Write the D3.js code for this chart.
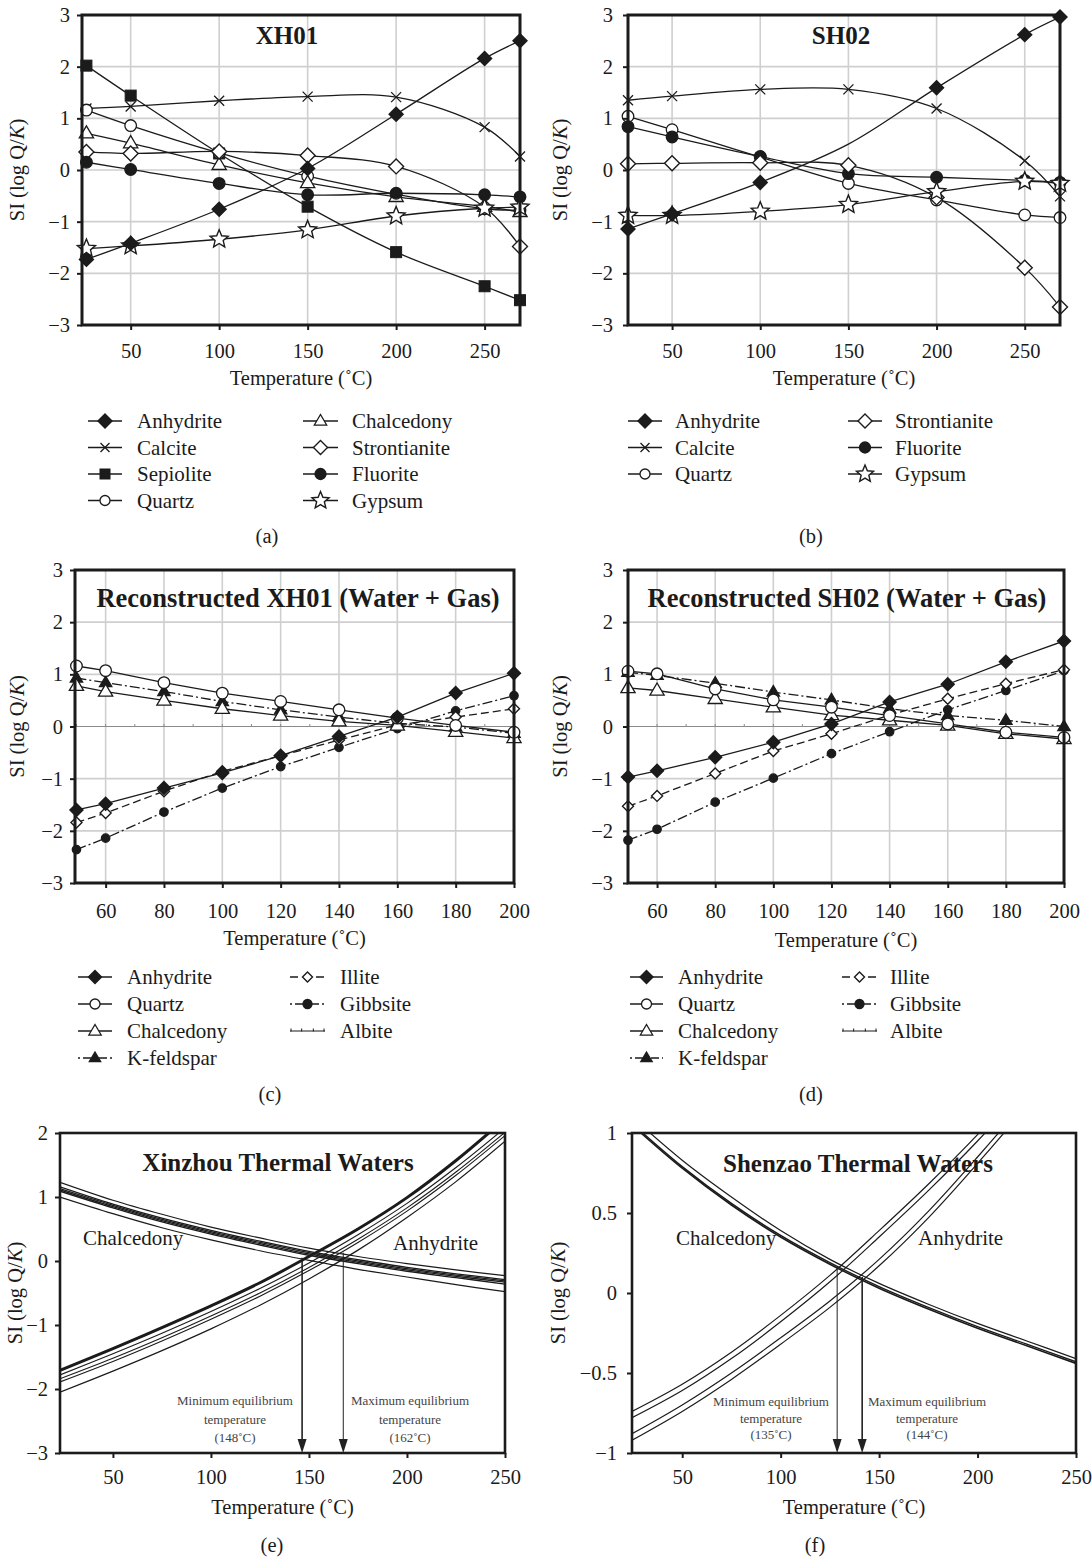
<!DOCTYPE html>
<html><head><meta charset="utf-8">
<script src="https://cdn.jsdelivr.net/npm/d3@7"></script>
<style>body{margin:0;background:#fff}svg{display:block}</style>
</head><body>
<script>
// ---------------- DATA ----------------
// Panel (a) XH01
const tempsA = [25, 50, 100, 150, 200, 250, 270];
const aAnhydrite    = [-1.73, -1.42, -0.76, 0.03, 1.08, 2.16, 2.50];
const aCalcite      = [1.19, 1.23, 1.34, 1.42, 1.41, 0.83, 0.26];
const aSepiolite    = [2.02, 1.44, 0.32, -0.71, -1.59, -2.25, -2.52];
const aQuartz       = [1.16, 0.86, 0.33, -0.12, -0.47, -0.75, -0.78];
const aChalcedony   = [0.71, 0.52, 0.10, -0.25, -0.52, -0.71, -0.81];
const aStrontianite = [0.35, 0.32, 0.36, 0.28, 0.07, -0.72, -1.48];
const aFluorite     = [0.15, 0.01, -0.26, -0.48, -0.45, -0.48, -0.52];
const aGypsum       = [-1.52, -1.47, -1.34, -1.16, -0.89, -0.74, -0.72];

// Panel (b) SH02
const tempsB = [25, 50, 100, 150, 200, 250, 270];
const bAnhydrite    = [-1.14, -0.85, -0.24, 0.50, 1.59, 2.62, 2.96];
const bCalcite      = [1.35, 1.43, 1.56, 1.56, 1.19, 0.18, -0.51];
const bQuartz       = [1.04, 0.78, 0.25, -0.26, -0.58, -0.87, -0.92];
const bStrontianite = [0.12, 0.13, 0.14, 0.09, -0.53, -1.89, -2.65];
const bFluorite     = [0.84, 0.64, 0.26, -0.07, -0.14, -0.20, -0.24];
const bGypsum       = [-0.88, -0.88, -0.80, -0.67, -0.42, -0.22, -0.26];

// Panel (c) Reconstructed XH01
const tempsC = [50, 60, 80, 100, 120, 140, 160, 180, 200];
const cAnhydrite  = [-1.60, -1.48, -1.18, -0.89, -0.56, -0.19, 0.18, 0.64, 1.02];
const cQuartz     = [1.16, 1.07, 0.84, 0.64, 0.48, 0.32, 0.16, 0.02, -0.11];
const cChalcedony = [0.78, 0.67, 0.50, 0.34, 0.21, 0.10, 0.02, -0.10, -0.22];
const cKfeldspar  = [0.93, 0.84, 0.67, 0.48, 0.32, 0.18, 0.06, -0.01, -0.13];
const cIllite     = [-1.84, -1.66, -1.24, -0.86, -0.56, -0.26, 0.03, 0.18, 0.34];
const cGibbsite   = [-2.36, -2.14, -1.64, -1.18, -0.77, -0.40, -0.04, 0.30, 0.59];

// Panel (d) Reconstructed SH02
const tempsD = [50, 60, 80, 100, 120, 140, 160, 180, 200];
const dAnhydrite  = [-0.97, -0.85, -0.59, -0.30, 0.05, 0.47, 0.81, 1.24, 1.64];
const dQuartz     = [1.06, 1.01, 0.72, 0.51, 0.37, 0.21, 0.05, -0.11, -0.21];
const dChalcedony = [0.74, 0.69, 0.53, 0.37, 0.22, 0.12, 0.02, -0.14, -0.24];
const dKfeldspar  = [1.04, 0.98, 0.83, 0.66, 0.51, 0.34, 0.21, 0.12, 0.00];
const dIllite     = [-1.53, -1.33, -0.90, -0.47, -0.14, 0.22, 0.53, 0.82, 1.09];
const dGibbsite   = [-2.18, -1.97, -1.45, -0.99, -0.52, -0.10, 0.32, 0.69, 1.07];

// Albite (c, d)
const tempsAlbite = [50, 60, 70, 80, 90, 100, 110, 120, 130, 140, 150, 160, 170, 180, 190, 200];
const cAlbite = [0, 0, 0, 0, 0, 0, 0, 0, 0, 0, 0, 0, 0, 0, 0, 0];
const dAlbite = [0, 0, 0, 0, 0, 0, 0, 0, 0, 0, 0, 0, 0, 0, 0, 0];

// Panel (e) Xinzhou thermal waters
const tempsE = [23, 50, 75, 100, 125, 150, 175, 200, 225, 250];
const eChalTop = [1.23, 0.95, 0.73, 0.53, 0.36, 0.20, 0.07, -0.04, -0.14, -0.23];
const eChal1   = [1.16, 0.89, 0.67, 0.48, 0.31, 0.15, 0.02, -0.10, -0.20, -0.29];
const eChal2   = [1.13, 0.87, 0.65, 0.46, 0.29, 0.13, 0.00, -0.12, -0.22, -0.31];
const eChal3   = [1.11, 0.85, 0.63, 0.44, 0.27, 0.11, -0.02, -0.14, -0.24, -0.33];
const eChal4   = [1.09, 0.83, 0.61, 0.42, 0.25, 0.09, -0.04, -0.16, -0.26, -0.36];
const eChalBot = [1.00, 0.74, 0.52, 0.33, 0.16, 0.01, -0.13, -0.25, -0.37, -0.48];
const eAnhThick = [-1.71, -1.37, -1.04, -0.70, -0.34, 0.07, 0.50, 0.99, 1.57, 2.22];
const eAnh1     = [-1.78, -1.45, -1.13, -0.79, -0.43, -0.03, 0.41, 0.90, 1.46, 2.08];
const eAnh2     = [-1.84, -1.52, -1.20, -0.86, -0.50, -0.10, 0.34, 0.83, 1.39, 2.01];
const eAnh3     = [-1.89, -1.57, -1.25, -0.91, -0.55, -0.15, 0.29, 0.78, 1.34, 1.96];
const eAnhBot   = [-2.05, -1.72, -1.40, -1.06, -0.69, -0.28, 0.17, 0.68, 1.24, 1.87];
const eArrowT   = [146.5, 167.5];
const eArrowTop = [0.05, 0.13];
const eArrowLabel = ["(148˚C)", "(162˚C)"];

// Panel (f) Shenzao thermal waters
const tempsF = [24.5, 50, 75, 100, 125, 150, 175, 200, 225, 250];
const fChalA = [1.05, 0.78, 0.55, 0.35, 0.18, 0.03, -0.10, -0.22, -0.33, -0.44];
const fChalB = [1.06, 0.79, 0.56, 0.36, 0.19, 0.04, -0.09, -0.21, -0.32, -0.43];
const fChalC = [1.10, 0.83, 0.60, 0.39, 0.21, 0.06, -0.07, -0.19, -0.30, -0.41];
const fAnh1  = [-0.74, -0.57, -0.37, -0.14, 0.11, 0.39, 0.68, 0.99, 1.33, 1.70];
const fAnh2  = [-0.78, -0.61, -0.41, -0.18, 0.07, 0.35, 0.64, 0.95, 1.29, 1.66];
const fAnh3  = [-0.88, -0.70, -0.50, -0.28, -0.05, 0.21, 0.51, 0.85, 1.21, 1.60];
const fAnh4  = [-0.92, -0.74, -0.54, -0.32, -0.09, 0.17, 0.47, 0.81, 1.17, 1.56];
const fArrowT   = [128.7, 141.4];
const fArrowTop = [0.16, 0.10];
const fArrowLabel = ["(135˚C)", "(144˚C)"];

// Tick labels
const ticksAB_x = [50, 100, 150, 200, 250];
const ticksCD_x = [60, 80, 100, 120, 140, 160, 180, 200];
const ticksEF_x = [50, 100, 150, 200, 250];
const ticksY3 = [-3, -2, -1, 0, 1, 2, 3];
const ticksE_y = [-3, -2, -1, 0, 1, 2];
const ticksF_y = [-1, -0.5, 0, 0.5, 1];

// ---------------- DRAWING ----------------
const FONT = '"Liberation Serif","Times New Roman",Times,serif';
const INK = '#1b1b1b';
const svg = d3.select('body').append('svg')
  .attr('width', 1092).attr('height', 1561)
  .style('font-family', FONT);
svg.append('rect').attr('width', 1092).attr('height', 1561).attr('fill', '#fff');

function drawMarker(g, type, cx, cy, s, color) {
  const c = color || INK;
  if (type === 'diamondF' || type === 'diamondO') {
    g.append('path').attr('d', `M${cx},${cy - s}L${cx + s},${cy}L${cx},${cy + s}L${cx - s},${cy}Z`)
      .attr('fill', type === 'diamondF' ? c : '#fff').attr('stroke', c).attr('stroke-width', 1.4);
  } else if (type === 'square') {
    g.append('rect').attr('x', cx - s).attr('y', cy - s).attr('width', 2 * s).attr('height', 2 * s)
      .attr('fill', c).attr('stroke', c);
  } else if (type === 'circleF' || type === 'circleO') {
    g.append('circle').attr('cx', cx).attr('cy', cy).attr('r', s)
      .attr('fill', type === 'circleF' ? c : '#fff').attr('stroke', c).attr('stroke-width', 1.3);
  } else if (type === 'triO' || type === 'triF') {
    g.append('path').attr('d', `M${cx},${cy - s}L${cx + s * 0.95},${cy + s * 0.62}L${cx - s * 0.95},${cy + s * 0.62}Z`)
      .attr('fill', type === 'triF' ? c : '#fff').attr('stroke', c).attr('stroke-width', 1.3);
  } else if (type === 'cross') {
    g.append('path').attr('d', `M${cx - s},${cy - s}L${cx + s},${cy + s}M${cx - s},${cy + s}L${cx + s},${cy - s}`)
      .attr('stroke', c).attr('stroke-width', 1.3).attr('fill', 'none');
  } else if (type === 'star') {
    const pts = [];
    for (let i = 0; i < 10; i++) {
      const r = i % 2 === 0 ? s : s * 0.45;
      const a = -Math.PI / 2 + i * Math.PI / 5;
      pts.push([cx + r * Math.cos(a), cy + r * Math.sin(a)]);
    }
    g.append('path').attr('d', 'M' + pts.map(p => p.join(',')).join('L') + 'Z')
      .attr('fill', '#fff').attr('stroke', c).attr('stroke-width', 1.4);
  } else if (type === 'tick') {
    g.append('line').attr('x1', cx).attr('x2', cx).attr('y1', cy - 2.5).attr('y2', cy + 0.5)
      .attr('stroke', c).attr('stroke-width', 1);
  }
}

function yTitle(x, y) {
  const t = svg.append('text').attr('transform', `translate(${x},${y}) rotate(-90)`)
    .attr('text-anchor', 'middle').attr('font-size', 20.5).attr('fill', INK);
  t.append('tspan').text('SI (log Q/');
  t.append('tspan').attr('font-style', 'italic').text('K');
  t.append('tspan').text(')');
}

function panel(p) {
  const x = d3.scaleLinear().domain(p.xdom).range([p.x0, p.x1]);
  const y = d3.scaleLinear().domain(p.ydom).range([p.y1, p.y0]);
  const g = svg.append('g');
  const clipId = 'clip' + p.id;
  svg.append('clipPath').attr('id', clipId).append('rect')
    .attr('x', p.x0).attr('y', p.y0).attr('width', p.x1 - p.x0).attr('height', p.y1 - p.y0);

  if (p.grid) {
    g.selectAll(null).data(p.xgrid).enter().append('line')
      .attr('x1', d => x(d)).attr('x2', d => x(d)).attr('y1', p.y0).attr('y2', p.y1)
      .attr('stroke', '#cfcfcf').attr('stroke-width', 1.6);
    g.selectAll(null).data(p.ygrid).enter().append('line')
      .attr('y1', d => y(d)).attr('y2', d => y(d)).attr('x1', p.x0).attr('x2', p.x1)
      .attr('stroke', '#cfcfcf').attr('stroke-width', 1.6);
  }
  if (p.title) {
    g.append('text').attr('x', p.titleX).attr('y', p.titleY).attr('text-anchor', 'middle')
      .attr('font-size', p.titleSize).attr('font-weight', 'bold').attr('fill', INK).text(p.title);
  }

  const line = d3.line().x(d => x(d[0])).y(d => y(d[1])).curve(p.curve);
  const lg = g.append('g').attr('clip-path', `url(#${clipId})`);
  p.series.forEach(s => {
    lg.append('path').attr('d', line(d3.zip(s.temps, s.vals)))
      .attr('fill', 'none').attr('stroke', s.color || INK)
      .attr('stroke-width', s.width || 1.3)
      .attr('stroke-dasharray', s.dash || null)
      .attr('stroke-linejoin', 'round');
  });
  p.series.forEach(s => {
    if (!s.marker) return;
    s.temps.forEach((t, i) => {
      if (s.skip && s.skip.includes(i)) return;
      drawMarker(g, s.marker, x(t), y(s.vals[i]), s.size, s.color);
    });
  });

  // arrows + annotations
  if (p.arrows) {
    p.arrows.T.forEach((t, i) => {
      const ax = x(t);
      g.append('line').attr('x1', ax).attr('x2', ax).attr('y1', y(p.arrows.top[i])).attr('y2', p.y1 - 12)
        .attr('stroke', '#222').attr('stroke-width', p.arrows.w[i]);
      g.append('path').attr('d', `M${ax - 4.5},${p.y1 - 14}L${ax + 4.5},${p.y1 - 14}L${ax},${p.y1}Z`).attr('fill', '#222');
    });
    p.arrows.texts.forEach(tx => {
      tx.lines.forEach((l, j) => {
        g.append('text').attr('x', tx.x).attr('y', tx.y + j * tx.dy).attr('text-anchor', 'middle')
          .attr('font-size', 13).attr('fill', '#444').text(l);
      });
    });
  }
  if (p.labels) {
    p.labels.forEach(l => g.append('text').attr('x', l.x).attr('y', l.y).attr('font-size', 21)
      .attr('fill', INK).text(l.t));
  }

  // frame
  g.append('rect').attr('x', p.x0).attr('y', p.y0).attr('width', p.x1 - p.x0).attr('height', p.y1 - p.y0)
    .attr('fill', 'none').attr('stroke', INK).attr('stroke-width', p.frame);

  // axes
  const ax = g.append('g').attr('transform', `translate(0,${p.y1})`)
    .call(d3.axisBottom(x).tickValues(p.xticks).tickSize(5).tickPadding(p.xpad).tickFormat(d3.format('d')));
  const ay = g.append('g').attr('transform', `translate(${p.x0},0)`)
    .call(d3.axisLeft(y).tickValues(p.yticks).tickSize(5).tickPadding(p.ypad).tickFormat(p.yfmt || d3.format('d')));
  [ax, ay].forEach(a => {
    a.select('.domain').remove();
    a.selectAll('line').attr('stroke', INK).attr('stroke-width', 2);
    a.selectAll('text').attr('font-size', 20.5).attr('fill', INK).attr('font-family', FONT);
  });

  // axis titles
  g.append('text').attr('x', (p.x0 + p.x1) / 2).attr('y', p.xTitleY).attr('text-anchor', 'middle')
    .attr('font-size', 20.5).attr('fill', INK).text('Temperature (˚C)');
  yTitle(p.yTitleX, (p.y0 + p.y1) / 2);
  // panel letter
  g.append('text').attr('x', p.letterX).attr('y', p.letterY).attr('text-anchor', 'middle')
    .attr('font-size', 20.5).attr('fill', INK).text(p.letter);
}

function legend(items, cols) {
  items.forEach(it => {
    const c = cols[it.col];
    const cy = c.rows[it.row];
    const g = svg.append('g');
    g.append('line').attr('x1', c.lx0).attr('x2', c.lx1).attr('y1', cy).attr('y2', cy)
      .attr('stroke', it.color || INK).attr('stroke-width', it.width || 1.3)
      .attr('stroke-dasharray', it.dash || null);
    if (it.marker === 'tick') {
      [c.lx0 + 1, (c.lx0 * 2 + c.lx1) / 3, (c.lx0 + c.lx1 * 2) / 3, c.lx1 - 1].forEach(tx =>
        drawMarker(g, 'tick', tx, cy, 3, it.color));
    } else if (it.marker) {
      drawMarker(g, it.marker, (c.lx0 + c.lx1) / 2, cy, it.size, it.color);
    }
    g.append('text').attr('x', c.tx).attr('y', cy + 7).attr('font-size', 21).attr('fill', INK).text(it.name);
  });
}

const smooth = d3.curveCatmullRom.alpha(0.5);
const DASH = '8,4';
const DASHDOT = '10,3,2,3';

// ---- (a)
panel({
  id: 'a', x0: 82, x1: 520, y0: 15, y1: 325, xdom: [22.5, 270], ydom: [-3, 3],
  grid: true, xgrid: [50, 100, 150, 200, 250], ygrid: [-2, -1, 0, 1, 2],
  xticks: ticksAB_x, yticks: ticksY3, xpad: 13, ypad: 7, frame: 3,
  curve: smooth, title: 'XH01', titleX: 287, titleY: 44, titleSize: 25,
  xTitleY: 385, yTitleX: 24, letter: '(a)', letterX: 267, letterY: 543,
  series: [
    {temps: tempsA, vals: aSepiolite, marker: 'square', size: 5.5},
    {temps: tempsA, vals: aCalcite, marker: 'cross', size: 5},
    {temps: tempsA, vals: aQuartz, marker: 'circleO', size: 5.8},
    {temps: tempsA, vals: aChalcedony, marker: 'triO', size: 7.5},
    {temps: tempsA, vals: aStrontianite, marker: 'diamondO', size: 7.5},
    {temps: tempsA, vals: aFluorite, marker: 'circleF', size: 5.8},
    {temps: tempsA, vals: aGypsum, marker: 'star', size: 9.5},
    {temps: tempsA, vals: aAnhydrite, marker: 'diamondF', size: 7},
  ]
});
legend([
  {name: 'Anhydrite', marker: 'diamondF', size: 7, col: 0, row: 0},
  {name: 'Calcite', marker: 'cross', size: 4.5, col: 0, row: 1},
  {name: 'Sepiolite', marker: 'square', size: 5, col: 0, row: 2},
  {name: 'Quartz', marker: 'circleO', size: 5, col: 0, row: 3},
  {name: 'Chalcedony', marker: 'triO', size: 6.5, col: 1, row: 0},
  {name: 'Strontianite', marker: 'diamondO', size: 7, col: 1, row: 1},
  {name: 'Fluorite', marker: 'circleF', size: 5.5, col: 1, row: 2},
  {name: 'Gypsum', marker: 'star', size: 9, col: 1, row: 3},
], [
  {lx0: 88, lx1: 122, tx: 137, rows: [421, 447.5, 474, 500.5]},
  {lx0: 303, lx1: 338, tx: 352, rows: [421, 447.5, 474, 500.5]},
]);

// ---- (b)
panel({
  id: 'b', x0: 628, x1: 1060, y0: 15, y1: 325, xdom: [25, 270], ydom: [-3, 3],
  grid: true, xgrid: [50, 100, 150, 200, 250], ygrid: [-2, -1, 0, 1, 2],
  xticks: ticksAB_x, yticks: ticksY3, xpad: 13, ypad: 10, frame: 3,
  curve: smooth, title: 'SH02', titleX: 841, titleY: 44, titleSize: 25,
  xTitleY: 385, yTitleX: 567, letter: '(b)', letterX: 811, letterY: 543,
  series: [
    {temps: tempsB, vals: bCalcite, marker: 'cross', size: 5},
    {temps: tempsB, vals: bQuartz, marker: 'circleO', size: 5.8},
    {temps: tempsB, vals: bFluorite, marker: 'circleF', size: 5.8},
    {temps: tempsB, vals: bStrontianite, marker: 'diamondO', size: 7.5},
    {temps: tempsB, vals: bGypsum, marker: 'star', size: 9.5},
    {temps: tempsB, vals: bAnhydrite, marker: 'diamondF', size: 7, skip: [3]},
  ]
});
legend([
  {name: 'Anhydrite', marker: 'diamondF', size: 7, col: 0, row: 0},
  {name: 'Calcite', marker: 'cross', size: 4.5, col: 0, row: 1},
  {name: 'Quartz', marker: 'circleO', size: 5, col: 0, row: 2},
  {name: 'Strontianite', marker: 'diamondO', size: 7, col: 1, row: 0},
  {name: 'Fluorite', marker: 'circleF', size: 5.5, col: 1, row: 1},
  {name: 'Gypsum', marker: 'star', size: 9, col: 1, row: 2},
], [
  {lx0: 628, lx1: 662, tx: 675, rows: [421, 447.5, 474]},
  {lx0: 848, lx1: 882, tx: 895, rows: [421, 447.5, 474]},
]);

// ---- (c)
const seriesCD = (anh, qz, ch, kf, il, gb, alb, temps) => [
  {temps: tempsAlbite, vals: alb, marker: 'tick', size: 3, color: '#8a8a8a', width: 1},
  {temps: temps, vals: gb, marker: 'circleF', size: 4.2, dash: DASHDOT},
  {temps: temps, vals: il, marker: 'diamondO', size: 5.5, dash: DASH},
  {temps: temps, vals: kf, marker: 'triF', size: 6.5, dash: DASHDOT},
  {temps: temps, vals: ch, marker: 'triO', size: 7.5},
  {temps: temps, vals: qz, marker: 'circleO', size: 5.8},
  {temps: temps, vals: anh, marker: 'diamondF', size: 6.5},
];
panel({
  id: 'c', x0: 75, x1: 514, y0: 570, y1: 883, xdom: [49.5, 200], ydom: [-3, 3],
  grid: true, xgrid: [60, 80, 100, 120, 140, 160, 180], ygrid: [-2, -1, 1, 2],
  xticks: ticksCD_x, yticks: ticksY3, xpad: 15, ypad: 7, frame: 3,
  curve: d3.curveLinear, title: 'Reconstructed XH01 (Water + Gas)', titleX: 298, titleY: 607, titleSize: 26.5,
  xTitleY: 945, yTitleX: 24, letter: '(c)', letterX: 270, letterY: 1101,
  series: seriesCD(cAnhydrite, cQuartz, cChalcedony, cKfeldspar, cIllite, cGibbsite, cAlbite, tempsC)
});
const legendCD = [
  {name: 'Anhydrite', marker: 'diamondF', size: 6.5, col: 0, row: 0},
  {name: 'Quartz', marker: 'circleO', size: 5, col: 0, row: 1},
  {name: 'Chalcedony', marker: 'triO', size: 6.5, col: 0, row: 2},
  {name: 'K-feldspar', marker: 'triF', size: 6, col: 0, row: 3, dash: '2,3,8,3'},
  {name: 'Illite', marker: 'diamondO', size: 5, col: 1, row: 0, dash: '8,5'},
  {name: 'Gibbsite', marker: 'circleF', size: 4.5, col: 1, row: 1, dash: '2,3,8,3'},
  {name: 'Albite', marker: 'tick', col: 1, row: 2, width: 1},
];
legend(legendCD, [
  {lx0: 78, lx1: 112, tx: 127, rows: [977, 1004, 1031, 1058]},
  {lx0: 290, lx1: 325, tx: 340, rows: [977, 1004, 1031, 1058]},
]);

// ---- (d)
panel({
  id: 'd', x0: 628, x1: 1064, y0: 570, y1: 883, xdom: [50, 200], ydom: [-3, 3],
  grid: true, xgrid: [60, 80, 100, 120, 140, 160, 180], ygrid: [-2, -1, 1, 2],
  xticks: ticksCD_x, yticks: ticksY3, xpad: 15, ypad: 10, frame: 3,
  curve: d3.curveLinear, title: 'Reconstructed SH02 (Water + Gas)', titleX: 847, titleY: 607, titleSize: 26.5,
  xTitleY: 947, yTitleX: 567, letter: '(d)', letterX: 811, letterY: 1101,
  series: seriesCD(dAnhydrite, dQuartz, dChalcedony, dKfeldspar, dIllite, dGibbsite, dAlbite, tempsD)
});
legend(legendCD, [
  {lx0: 630, lx1: 663, tx: 678, rows: [977, 1004, 1031, 1058]},
  {lx0: 842, lx1: 877, tx: 890, rows: [977, 1004, 1031, 1058]},
]);

// ---- (e)
panel({
  id: 'e', x0: 60, x1: 505, y0: 1133, y1: 1453, xdom: [23, 250], ydom: [-3, 2],
  grid: false, xticks: ticksEF_x, yticks: ticksE_y, xpad: 11, ypad: 7, frame: 2.6,
  curve: smooth, title: 'Xinzhou Thermal Waters', titleX: 278, titleY: 1171, titleSize: 25,
  xTitleY: 1514, yTitleX: 22, letter: '(e)', letterX: 272, letterY: 1552,
  series: [
    {temps: tempsE, vals: eChalTop, width: 1.2},
    {temps: tempsE, vals: eChal1, width: 1.3},
    {temps: tempsE, vals: eChal2, width: 1.3},
    {temps: tempsE, vals: eChal3, width: 1.3},
    {temps: tempsE, vals: eChal4, width: 1.3},
    {temps: tempsE, vals: eChalBot, width: 1.2},
    {temps: tempsE, vals: eAnhBot, width: 1.2},
    {temps: tempsE, vals: eAnh3, width: 1.1},
    {temps: tempsE, vals: eAnh2, width: 1.1},
    {temps: tempsE, vals: eAnh1, width: 1.1},
    {temps: tempsE, vals: eAnhThick, width: 3},
  ],
  arrows: {T: eArrowT, top: eArrowTop, w: [1.6, 1],
    texts: [
      {x: 235, y: 1405, dy: 18.5, lines: ['Minimum equilibrium', 'temperature', eArrowLabel[0]]},
      {x: 410, y: 1405, dy: 18.5, lines: ['Maximum equilibrium', 'temperature', eArrowLabel[1]]},
    ]},
  labels: [{x: 83, y: 1245, t: 'Chalcedony'}, {x: 393, y: 1250, t: 'Anhydrite'}]
});

// ---- (f)
panel({
  id: 'f', x0: 632, x1: 1076, y0: 1133, y1: 1453, xdom: [24.5, 250], ydom: [-1, 1],
  grid: false, xticks: ticksEF_x, yticks: ticksF_y, xpad: 11, ypad: 10, frame: 2.6,
  yfmt: d3.format('~g'),
  curve: smooth, title: 'Shenzao Thermal Waters', titleX: 858, titleY: 1172, titleSize: 25,
  xTitleY: 1514, yTitleX: 565, letter: '(f)', letterX: 815, letterY: 1552,
  series: [
    {temps: tempsF, vals: fChalC, width: 1.2},
    {temps: tempsF, vals: fChalB, width: 1.4},
    {temps: tempsF, vals: fChalA, width: 1.6},
    {temps: tempsF, vals: fAnh1, width: 1.2},
    {temps: tempsF, vals: fAnh2, width: 1.2},
    {temps: tempsF, vals: fAnh3, width: 1.2},
    {temps: tempsF, vals: fAnh4, width: 1.2},
  ],
  arrows: {T: fArrowT, top: fArrowTop, w: [1, 1.6],
    texts: [
      {x: 771, y: 1406, dy: 16.5, lines: ['Minimum equilibrium', 'temperature', fArrowLabel[0]]},
      {x: 927, y: 1406, dy: 16.5, lines: ['Maximum equilibrium', 'temperature', fArrowLabel[1]]},
    ]},
  labels: [{x: 676, y: 1245, t: 'Chalcedony'}, {x: 918, y: 1245, t: 'Anhydrite'}]
});
</script>
</body></html>
